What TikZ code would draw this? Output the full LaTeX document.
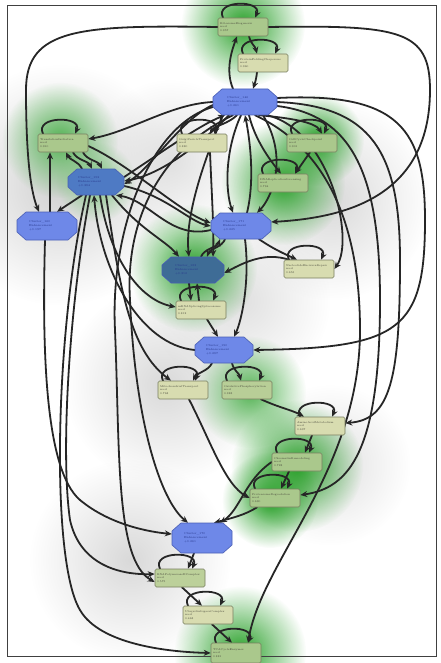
\documentclass[tikz,border=0pt]{standalone}
\usetikzlibrary{arrows.meta,fadings}
\tikzfading[name=glowfade, inner color=transparent!0, outer color=transparent!100]
\pgfdeclarelayer{bg}
\pgfdeclarelayer{edgelayer}
\pgfsetlayers{bg,edgelayer,main}
\definecolor{edgecol}{RGB}{38,38,38}
\definecolor{boxyel}{RGB}{216,220,176}
\definecolor{boxgreen}{RGB}{170,200,140}
\definecolor{boxline}{RGB}{120,126,96}
\definecolor{octblue}{RGB}{110,136,232}
\definecolor{octgreen}{RGB}{78,122,196}
\definecolor{octdark}{RGB}{62,108,150}
\definecolor{octline}{RGB}{74,95,181}
\definecolor{txtcol}{RGB}{70,70,58}
\definecolor{octtxt}{RGB}{40,56,140}
\definecolor{glowgreen}{RGB}{40,160,40}
\newcommand{\octnode}[7]{%
  \filldraw[octstyle, fill=#6, shift={(#2,#3)}] (-#4,-#5+8) -- (-#4+9,-#5) -- (#4-9,-#5) -- (#4,-#5+8) -- (#4,#5-8) -- (#4-9,#5) -- (-#4+9,#5) -- (-#4,#5-8) -- cycle;
  \node[octtext, minimum width={2*#4bp}, minimum height={2*#5bp}] (#1) at (#2,#3) {#7};}
\newcommand{\selfloopat}[1]{\draw[edge] ([xshift=-20bp]#1.north) .. controls +(-9,-18) and +(8,-18) .. ([xshift=12bp]#1.north);}
\newcommand{\glowat}[4]{\fill[#4, path fading=glowfade] (#1,#2) circle (#3);}
\begin{document}
\begin{tikzpicture}[x=1bp,y=-1bp,
  edge/.style={draw=edgecol, line width=1.8bp, -{Stealth[length=7bp,width=6bp]}, line cap=round},
  ybox/.style={draw=boxline, fill=boxyel, rounded corners=1.5bp, minimum width=50bp, minimum height=18bp, inner sep=1.2bp, text width=46bp, align=left, font=\fontsize{2.7}{3.6}\selectfont, text=txtcol, line width=0.6bp},
  gbox/.style={ybox, fill=boxgreen},
  octstyle/.style={draw=octline, line width=0.6bp},
  octtext/.style={inner sep=0pt, text width=36bp, align=left, font=\fontsize{2.9}{3.8}\selectfont, text=octtxt}
]
\useasboundingbox (0,0) rectangle (441,663);
\begin{pgfonlayer}{bg}
  \fill[white] (0,0) rectangle (441,663);
  % grey halos
  \glowat{60}{185}{120}{black!18}
  \glowat{165}{385}{100}{black!15}
  \glowat{130}{560}{100}{black!15}
  \glowat{330}{200}{100}{black!15}
  \glowat{240}{300}{90}{black!12}
  \glowat{330}{465}{80}{black!12}
  \glowat{170}{160}{80}{black!12}
  % green glows
  \glowat{243}{25}{62}{glowgreen}
  \glowat{60}{140}{58}{glowgreen!80}
  \glowat{318}{140}{46}{glowgreen}
  \glowat{283}{183}{62}{glowgreen}
  \glowat{193}{268}{64}{glowgreen}
  \glowat{250}{392}{56}{glowgreen!80}
  \glowat{297}{466}{66}{glowgreen}
  \glowat{270}{500}{48}{glowgreen}
  \glowat{240}{652}{66}{glowgreen}
  \glowat{96}{182}{40}{glowgreen!60}
  % frame
  \draw[line width=0.8bp, black!75] (7,5) rectangle (436,656);
\end{pgfonlayer}

% nodes
\node[gbox] (A) at (243,27) {RibosomeBiogenesis\\seed\\0.957};
\node[ybox] (B) at (263,63) {ProteinFoldingChaperone\\seed\\0.960};
\octnode{C}{245}{102}{32}{13}{octblue}{Cluster\_146\\Enhancement\\+0.261};
\node[gbox] (D) at (63,143) {TranslationInitiation\\seed\\0.910};
\octnode{E}{96}{182}{28}{13}{octgreen}{Cluster\_152\\Enhancement\\+0.384};
\octnode{F}{47}{226}{30}{14}{octblue}{Cluster\_160\\Enhancement\\+0.197};
\node[ybox] (G) at (202,143) {GolgiVesicleTransport\\seed\\0.880};
\node[gbox] (H) at (312,143) {CellCycleCheckpoint\\seed\\0.901};
\node[gbox] (I) at (283,183) {DNAReplicationLicensing\\seed\\0.734};
\octnode{J}{241}{226}{30}{13}{octblue}{Cluster\_171\\Enhancement\\+0.225};
\node[ybox] (K) at (309,269) {NucleotideExcisionRepair\\seed\\0.655};
\octnode{L}{193}{270}{31}{13}{octdark}{Cluster\_183\\Enhancement\\+0.312};
\node[ybox] (M) at (201,310) {mRNASplicingSpliceosome\\seed\\0.812};
\octnode{N}{224}{350}{29}{13}{octblue}{Cluster\_190\\Enhancement\\+0.287};
\node[ybox] (O) at (183,390) {MitochondrialTransport\\seed\\0.768};
\node[ybox, fill=boxgreen!70!boxyel] (P) at (247,390) {OxidativePhosphorylation\\seed\\0.383};
\node[ybox] (Q) at (320,426) {AminoAcidMetabolism\\seed\\0.697};
\node[gbox] (R) at (297,462) {ChromatinRemodeling\\seed\\0.728};
\node[gbox] (S) at (275,498) {ProteasomeDegradation\\seed\\0.630};
\octnode{T}{202}{538}{30}{15}{octblue}{Cluster\_170\\Enhancement\\+0.261};
\node[ybox, fill=boxgreen!60!boxyel] (U) at (180,578) {RNAPolymeraseIIComplex\\seed\\0.575};
\node[ybox] (V) at (208,615) {UbiquitinLigaseComplex\\seed\\0.463};
\node[gbox, minimum height=20bp] (W) at (236,653) {TCACycleEnzymes\\seed\\0.881};

\begin{pgfonlayer}{edgelayer}
% top
\selfloopat{A}
\draw[edge] ([xshift=6bp]A.south) .. controls +(2,8) and +(-2,-8) .. ([xshift=-6bp]B.north);
\selfloopat{B}
\draw[edge] ([xshift=-6bp]B.south) .. controls +(-1,8) and +(2,-6) .. ([xshift=8bp]C.north);
\draw[edge] ([xshift=-12bp]C.north) .. controls (225,70) and (232,50) .. ([xshift=-6bp]A.south);
\draw[edge] (A.west) .. controls (80,25) and (26,28) .. (26,90) .. controls (26,165) and (32,195) .. ([xshift=-8bp]F.north);
\draw[edge] (A.east) .. controls (400,25) and (430,30) .. (430,90) .. controls (430,200) and (340,218) .. ([yshift=4bp]J.east);
% D E F
\selfloopat{D}
\draw[edge] (C.west) .. controls (170,104) and (130,132) .. ([yshift=4bp]D.east);
\draw[edge] ([xshift=10bp]D.south) .. controls +(4,8) and +(-4,-8) .. ([xshift=-4bp]E.north);
\draw[edge] ([xshift=20bp]D.south) .. controls +(4,8) and +(-4,-8) .. ([xshift=6bp]E.north);
\draw[edge] ([xshift=-14bp]E.north) .. controls +(-4,-8) and +(4,8) .. ([xshift=3bp]D.south);
\draw[edge] ([yshift=-3bp]D.east) .. controls (130,165) and (180,212) .. ([yshift=3bp]J.west);
\draw[edge] ([xshift=-14bp]E.south) -- ([xshift=10bp]F.north);
\draw[edge] ([xshift=3bp]F.north) -- ([xshift=-13bp]D.south);
% C - E bundle
\draw[edge] ([yshift=5bp]E.east) .. controls (165,150) and (200,125) .. ([xshift=-20bp]C.south);
\draw[edge] ([xshift=-16bp]C.south) .. controls (200,145) and (160,175) .. ([yshift=1bp]E.east);
\draw[edge] ([yshift=-3bp]C.west) .. controls (180,120) and (150,170) .. ([yshift=-2bp]E.east);
\draw[edge] ([yshift=-4bp]E.east) .. controls (165,195) and (190,222) .. (J.west);
\draw[edge] ([yshift=-4bp]J.west) .. controls (170,240) and (150,200) .. ([xshift=20bp]E.south);
% C to the right group
\draw[edge] ([xshift=-8bp]C.south) .. controls (228,124) and (214,126) .. ([xshift=8bp]G.north);
\selfloopat{G}
\draw[edge] ([xshift=14bp]C.south) .. controls (290,118) and (315,122) .. ([xshift=10bp]H.north);
\selfloopat{H}
\draw[edge] ([xshift=-2bp]H.south) -- ([xshift=12bp]I.north);
\draw[edge] ([xshift=4bp]C.south) .. controls (255,140) and (270,160) .. ([xshift=-2bp]I.north);
\selfloopat{I}
\draw[edge] ([xshift=-4bp]C.south) .. controls (225,150) and (225,190) .. ([xshift=-8bp]J.north);
\draw[edge] ([xshift=6bp]J.north) .. controls (255,180) and (250,140) .. ([xshift=0bp]C.south);
\draw[edge] ([xshift=18bp]C.south) .. controls (290,160) and (270,200) .. ([xshift=16bp]J.north);
% long right curves
\draw[edge] ([yshift=4bp]C.east) .. controls (400,92) and (425,130) .. (425,220) .. controls (425,330) and (400,348) .. (N.east);
\draw[edge] (C.east) .. controls (370,106) and (400,150) .. (400,260) .. controls (400,380) and (390,420) .. ([yshift=3bp]Q.east);
\draw[edge] ([yshift=-4bp]C.east) .. controls (350,115) and (380,170) .. (380,300) .. controls (380,450) and (350,488) .. ([yshift=3bp]S.east);
\draw[edge] ([xshift=22bp]C.south) .. controls (330,130) and (355,240) .. (K.east);
\draw[edge] ([xshift=10bp]C.south) .. controls (330,150) and (360,230) .. (360,330) .. controls (360,470) and (262,560) .. ([xshift=12bp]W.north);
% J group
\draw[edge] ([xshift=18bp]J.south) .. controls (275,250) and (285,254) .. ([xshift=-12bp]K.north);
\selfloopat{K}
\draw[edge] ([xshift=-16bp]J.south) .. controls +(-3,8) and +(3,-8) .. ([xshift=14bp]L.north);
\draw[edge] ([xshift=8bp]L.north) .. controls +(3,-8) and +(-3,8) .. ([xshift=-21bp]J.south);
\draw[edge] ([xshift=4bp]J.south) .. controls (250,280) and (242,320) .. ([xshift=10bp]N.north);
\draw[edge] ([xshift=-22bp]C.south) .. controls (200,170) and (185,220) .. ([xshift=-4bp]L.north);
\draw[edge] ([xshift=16bp]E.south) .. controls (140,230) and (165,240) .. ([xshift=-14bp]L.north);
\draw[edge] ([xshift=8bp]G.south) .. controls (212,200) and (214,230) .. ([xshift=20bp]L.north);
\draw[edge] ([xshift=-20bp]K.north) .. controls (265,252) and (245,262) .. ([yshift=-3bp]L.east);
% L M N
\draw[edge] ([xshift=-4bp]L.south) -- ([xshift=-10bp]M.north);
\draw[edge] ([xshift=-2bp]M.north) -- ([xshift=4bp]L.south);
\selfloopat{M}
\draw[edge] ([xshift=6bp]M.south) -- ([xshift=-6bp]N.north);
\draw[edge] ([xshift=4bp]E.south) .. controls (110,260) and (140,300) .. ([yshift=3bp]M.west);
\draw[edge] (N.west) .. controls (140,345) and (100,270) .. ([xshift=-2bp]E.south);
% long left curves
\draw[edge] ([xshift=-2bp]F.south) .. controls (42,350) and (45,470) .. (80,500) .. controls (110,525) and (150,532) .. ([yshift=4bp]T.west);
\draw[edge] ([xshift=-6bp]E.south) .. controls (70,300) and (60,450) .. (70,520) .. controls (80,565) and (120,575) .. ([yshift=4bp]U.west);
\draw[edge] ([xshift=-10bp]E.south) .. controls (55,330) and (50,560) .. (80,610) .. controls (100,645) and (170,652) .. (W.west);
\draw[edge] ([xshift=10bp]E.south) .. controls (120,290) and (130,350) .. ([xshift=-12bp]O.north);
\draw[edge] ([xshift=-12bp]C.south) .. controls (160,150) and (125,220) .. (130,300) .. controls (135,420) and (160,500) .. ([xshift=-14bp]T.north);
\draw[edge] ([yshift=-5bp]C.west) .. controls (150,125) and (110,230) .. (115,330) .. controls (120,450) and (115,560) .. ([yshift=-4bp]U.west);
% lower chain
\draw[edge] ([xshift=-12bp]N.south) .. controls +(-4,8) and +(4,-8) .. ([xshift=10bp]O.north);
\selfloopat{O}
\draw[edge] ([xshift=8bp]N.south) .. controls +(2,8) and +(-2,-8) .. ([xshift=-6bp]P.north);
\selfloopat{P}
\draw[edge] ([xshift=6bp]O.south) .. controls (210,440) and (225,485) .. (S.west);
\draw[edge] ([xshift=14bp]P.south) .. controls (280,408) and (292,410) .. ([xshift=-16bp]Q.north);
\selfloopat{Q}
\draw[edge] ([xshift=-8bp]Q.south) -- ([xshift=8bp]R.north);
\selfloopat{R}
\draw[edge] ([xshift=-8bp]R.south) -- ([xshift=6bp]S.north);
\selfloopat{S}
\draw[edge] ([xshift=-18bp]S.south) .. controls (245,515) and (232,518) .. ([xshift=12bp]T.north);
\draw[edge] (R.west) .. controls (245,480) and (240,510) .. ([xshift=18bp]T.north);
\draw[edge] ([xshift=-8bp]T.south) -- ([xshift=8bp]U.north);
\selfloopat{U}
\draw[edge] ([xshift=2bp]U.south) -- ([xshift=-6bp]V.north);
\selfloopat{V}
\draw[edge] ([xshift=4bp]V.south) -- ([xshift=-4bp]W.north);
\selfloopat{W}
\end{pgfonlayer}
\end{tikzpicture}
\end{document}
